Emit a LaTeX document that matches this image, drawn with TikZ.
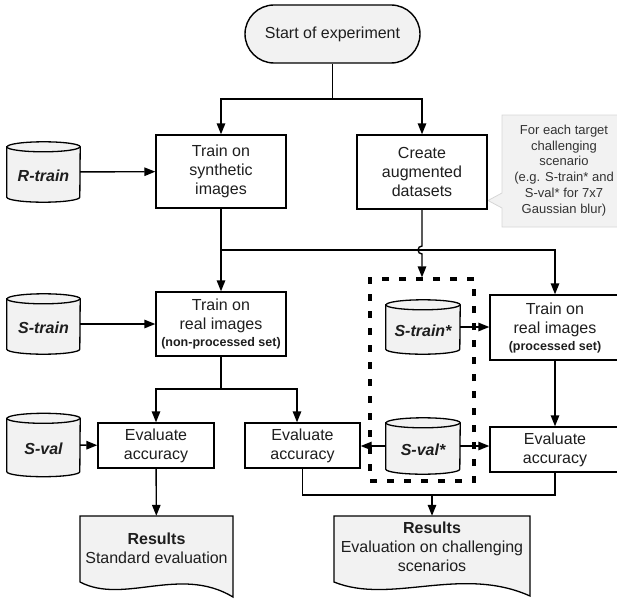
\documentclass[tikz,border=0pt]{standalone}
\usepackage{fontspec}
\setmainfont{Liberation Sans}
\usetikzlibrary{arrows.meta,calc,backgrounds}
\definecolor{lfill}{HTML}{F2F2F2}
\definecolor{txt}{HTML}{1E1E1E}
\definecolor{notetxt}{HTML}{333333}
\definecolor{noteedge}{HTML}{D6D6D6}
\newcommand\cylout[2]{% node name, x radius
  \draw[cylline] ([yshift=-5pt]#1.north west) -- ([yshift=5pt]#1.south west)
    arc[start angle=180,end angle=360,x radius=#2,y radius=5pt]
    -- ([yshift=-5pt]#1.north east)
    arc[start angle=0,end angle=180,x radius=#2,y radius=5pt] -- cycle;
  \draw[cylline] ([yshift=-5pt]#1.north west)
    arc[start angle=180,end angle=360,x radius=#2,y radius=5pt];}
\begin{document}
\begin{tikzpicture}[x=1pt,y=1pt,
  every node/.style={text=txt},
  mainfont/.style={font=\fontsize{16}{19}\selectfont},
  box/.style={draw=black, line width=1.4pt, fill=white, align=center,
    mainfont, inner sep=0pt},
  startbox/.style={box, fill=lfill, rounded corners=29pt},
  cylnode/.style={minimum width=73pt, inner sep=0pt},
  cyllab/.style={yshift=-4pt, inner sep=0pt,
    font=\fontsize{16}{19}\selectfont\bfseries\itshape},
  cylline/.style={draw=black, line width=1.3pt, fill=lfill},
  docnode/.style={align=center, mainfont, inner sep=0pt},
  docline/.style={draw=black, line width=1.3pt, fill=lfill},
  notebox/.style={align=center, text=notetxt, inner sep=0pt,
    font=\fontsize{13}{15.8}\selectfont},
  noteline/.style={draw=noteedge, line width=0.8pt, fill=lfill},
  grpbox/.style={draw=black, line width=3.3pt, dash pattern=on 7pt off 10pt,
    inner sep=0pt},
  arr/.style={line width=1.4pt, -{Triangle[length=11pt,width=8.5pt]}},
  conn/.style={line width=1.4pt}]
\useasboundingbox (0,0) rectangle (617,-599);

% nodes
\node[startbox, minimum width=175pt, minimum height=58pt] (start) at (332.5,-34) {Start of experiment};
\node[box, minimum width=130pt, minimum height=73pt] (trainsyn) at (221,-171.5) {Train on\\synthetic\\images};
\node[box, minimum width=130pt, minimum height=74pt] (create) at (422,-172) {Create\\augmented\\datasets};
\node[notebox] (note) at (564,-170.5) {For each target\\challenging\\scenario\\(e.g. S-train* and\\S-val* for 7x7\\Gaussian blur)};

\node[cylnode, minimum height=60pt, label={[cyllab]center:R-train}] (rtrain) at (43.5,-172) {};
\node[cylnode, minimum height=60pt, label={[cyllab]center:S-train}] (strain) at (43.5,-324) {};
\node[cylnode, minimum height=63pt, label={[cyllab]center:S-val}] (sval) at (43.5,-445) {};

\node[grpbox, minimum width=104pt, minimum height=202pt] (grp) at (422,-380) {};
\node[cylnode, minimum width=74pt, minimum height=54pt, label={[cyllab]center:S-train*}] (strainstar) at (423,-327) {};
\node[cylnode, minimum width=74pt, minimum height=56pt, label={[cyllab]center:S-val*}] (svalstar) at (423,-446) {};

\node[box, minimum width=130pt, minimum height=64pt] (trainreal) at (221,-324)
  {Train on\\real images\\[-2pt]{\fontsize{12.5}{15}\selectfont\bfseries (non-processed set)}};
\node[box, minimum width=130pt, minimum height=65pt] (trainproc) at (555,-327.5)
  {Train on\\real images\\[-2pt]{\fontsize{12.5}{15}\selectfont\bfseries (processed set)}};

\node[box, minimum width=116pt, minimum height=45pt] (eval1) at (156,-445.5) {Evaluate\\accuracy};
\node[box, minimum width=115pt, minimum height=45pt] (eval2) at (302.5,-445.5) {Evaluate\\accuracy};
\node[box, minimum width=130pt, minimum height=45pt] (eval3) at (555,-449.5) {Evaluate\\accuracy};

\node[docnode, minimum width=153pt, minimum height=64pt] (doc1) at (156.5,-548) {\textbf{Results}\\Standard evaluation};
\node[docnode, minimum width=196pt, minimum height=61pt] (doc2) at (432,-546.5) {\textbf{Results}\\Evaluation on challenging\\scenarios};

% shapes behind the texts
\begin{scope}[on background layer]
  \path[noteline] (502,-115) -- (626,-115) -- (626,-227) -- (502,-227)
    -- (502,-208) -- (488,-200.5) -- (502,-193) -- cycle;
  \cylout{rtrain}{36.5pt}
  \cylout{strain}{36.5pt}
  \cylout{sval}{36.5pt}
  \cylout{strainstar}{37pt}
  \cylout{svalstar}{37pt}
  \path[docline] (80,-516) -- (80,-582) .. controls (124,-605) and (180,-565) .. (233,-597) -- (233,-516) -- cycle;
  \path[docline] (334,-516) -- (334,-582) .. controls (391,-605) and (461,-565) .. (530,-596) -- (530,-516) -- cycle;
\end{scope}

% junction points
\coordinate (j1) at (332.5,-99);
\coordinate (j2) at (221,-250);
\coordinate (j3) at (221,-389);
\coordinate (j4) at (432,-495);

% connectors
\draw[conn] (start) -- (j1);
\draw[arr] (j1) -| (trainsyn);
\draw[arr] (j1) -| (create);
\draw[arr] (rtrain) -- (trainsyn);
\draw[arr] (trainsyn) -- (trainreal);
\draw[arr] (j2) -| (trainproc);
\draw[arr] (create.south) -- ($(create.south |- j2)+(0,4)$)
  arc[start angle=90,end angle=270,radius=4pt] -- (grp.north);
\draw[arr] (strain) -- (trainreal);
\draw[arr] (strainstar.east) -- (strainstar.east -| trainproc.west);
\draw[conn] (trainreal) -- (j3);
\draw[arr] (j3) -| (eval1);
\draw[arr] (j3) -| ([xshift=-5.5pt]eval2.north);
\draw[arr] (sval) -- (eval1);
\draw[arr] (svalstar.west) -- (svalstar.west -| eval2.east);
\draw[arr] (svalstar.east) -- (svalstar.east -| eval3.west);
\draw[arr] (trainproc) -- (eval3);
\draw[arr] (eval1) -- (doc1);
\draw[conn] (eval2) |- (j4);
\draw[conn] (eval3) |- (j4);
\draw[arr] (j4) -- (doc2);
\end{tikzpicture}
\end{document}
